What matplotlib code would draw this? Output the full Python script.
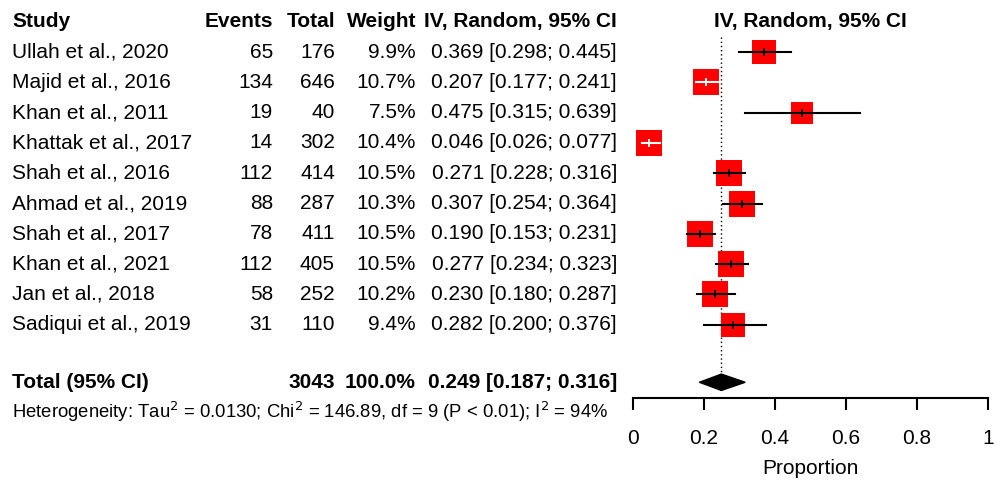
import numpy as np
import matplotlib
matplotlib.use("Agg")
import matplotlib.pyplot as plt
from matplotlib.transforms import blended_transform_factory

plt.rcParams['font.family'] = ['Liberation Sans', 'DejaVu Sans']

studies = ["Ullah et al., 2020", "Majid et al., 2016", "Khan et al., 2011",
           "Khattak et al., 2017", "Shah et al., 2016", "Ahmad et al., 2019",
           "Shah et al., 2017", "Khan et al., 2021", "Jan et al., 2018",
           "Sadiqui et al., 2019"]
events = [65, 134, 19, 14, 112, 88, 78, 112, 58, 31]
totals = [176, 646, 40, 302, 414, 287, 411, 405, 252, 110]
weights = [9.9, 10.7, 7.5, 10.4, 10.5, 10.3, 10.5, 10.5, 10.2, 9.4]
est = [0.369, 0.207, 0.475, 0.046, 0.271, 0.307, 0.190, 0.277, 0.230, 0.282]
lo = [0.298, 0.177, 0.315, 0.026, 0.228, 0.254, 0.153, 0.234, 0.180, 0.200]
hi = [0.445, 0.241, 0.639, 0.077, 0.316, 0.364, 0.231, 0.323, 0.287, 0.376]

pooled_n = 3043
pooled_est, pooled_lo, pooled_hi = 0.249, 0.187, 0.316
het_text = (r"Heterogeneity: Tau$^2$ = 0.0130; Chi$^2$ = 146.89, df = 9 "
            r"(P < 0.01); I$^2$ = 94%")

fig = plt.figure(figsize=(10.01, 4.8), dpi=100)
W, H = 1001, 480
ax = fig.add_axes([633 / W, 0, 355 / W, 1])

# rows are indexed 0..9, header at -1, pooled row below
row_px, row_step = 52, 30.3
ax.set_ylim((H - row_px) / row_step, -row_px / row_step)
ax.set_xlim(0, 1)
header_y = -1
total_y = 10.9
het_y = 11.88
axis_y = 11.42

fs = 15
tr = blended_transform_factory(fig.transFigure, ax.transData)

def fx(px):
    return px / W

# column headers
ax.text(fx(12), header_y, "Study", transform=tr, fontsize=fs, fontweight='bold', va='center', ha='left')
ax.text(fx(273), header_y, "Events", transform=tr, fontsize=fs, fontweight='bold', va='center', ha='right')
ax.text(fx(335), header_y, "Total", transform=tr, fontsize=fs, fontweight='bold', va='center', ha='right')
ax.text(fx(416), header_y, "Weight", transform=tr, fontsize=fs, fontweight='bold', va='center', ha='right')
ax.text(fx(617), header_y, "IV, Random, 95% CI", transform=tr, fontsize=fs, fontweight='bold', va='center', ha='right')
ax.text(0.5, header_y, "IV, Random, 95% CI", fontsize=fs, fontweight='bold', va='center', ha='center')

for i, s in enumerate(studies):
    ax.text(fx(12), i, s, transform=tr, fontsize=fs, va='center', ha='left')
    ax.text(fx(273), i, str(events[i]), transform=tr, fontsize=fs, va='center', ha='right')
    ax.text(fx(335), i, str(totals[i]), transform=tr, fontsize=fs, va='center', ha='right')
    ax.text(fx(416), i, f"{weights[i]:.1f}%", transform=tr, fontsize=fs, va='center', ha='right')
    ax.text(fx(617), i, f"{est[i]:.3f} [{lo[i]:.3f}; {hi[i]:.3f}]", transform=tr,
            fontsize=fs, va='center', ha='right')

    # box side grows with sqrt(weight); CI segment inside box turns white if it fits
    side_px = 7.9 * np.sqrt(weights[i])
    half = side_px / 2 / 355
    inside = lo[i] >= est[i] - half and hi[i] <= est[i] + half
    ax.plot([lo[i], hi[i]], [i, i], color='black', lw=1.5, zorder=2)
    ax.plot(est[i], i, marker='s', markersize=side_px * 0.72, color='red',
            markeredgewidth=0, zorder=3)
    c = 'white' if inside else 'black'
    ax.plot([max(lo[i], est[i] - half), min(hi[i], est[i] + half)], [i, i],
            color=c, lw=1.5, zorder=4)
    ax.plot(est[i], i, marker='|', markersize=6, color=c, markeredgewidth=1.3, zorder=5)

# pooled row
ax.text(fx(12), total_y, "Total (95% CI)", transform=tr, fontsize=fs, fontweight='bold', va='center', ha='left')
ax.text(fx(335), total_y, str(pooled_n), transform=tr, fontsize=fs, fontweight='bold', va='center', ha='right')
ax.text(fx(416), total_y, "100.0%", transform=tr, fontsize=fs, fontweight='bold', va='center', ha='right')
ax.text(fx(617), total_y, f"{pooled_est:.3f} [{pooled_lo:.3f}; {pooled_hi:.3f}]", transform=tr,
        fontsize=fs, fontweight='bold', va='center', ha='right')
ax.text(fx(12), het_y, het_text, transform=tr, fontsize=13.3, va='center', ha='left')

dh = 0.27
ax.fill([pooled_lo, pooled_est, pooled_hi, pooled_est],
        [total_y, total_y - dh, total_y, total_y + dh], color='black', zorder=3)
ax.plot([pooled_est, pooled_est], [-0.5, 10.56], color='black', lw=1, ls=(0, (1, 2)), zorder=1)

# x axis
for sp in ['top', 'left', 'right']:
    ax.spines[sp].set_visible(False)
ax.spines['bottom'].set_position(('data', axis_y))
ax.spines['bottom'].set_linewidth(1.5)
ax.spines['bottom'].set_bounds(0, 1)
ax.set_yticks([])
ax.set_xticks([0, 0.2, 0.4, 0.6, 0.8, 1])
ax.set_xticklabels(["0", "0.2", "0.4", "0.6", "0.8", "1"])
ax.tick_params(axis='x', direction='out', length=8.5, width=1.5, labelsize=fs, pad=14)
ax.text(0.5, 13.75, "Proportion", fontsize=fs, ha='center', va='center')
ax.patch.set_visible(False)

fig.savefig("out.png", dpi=100)
